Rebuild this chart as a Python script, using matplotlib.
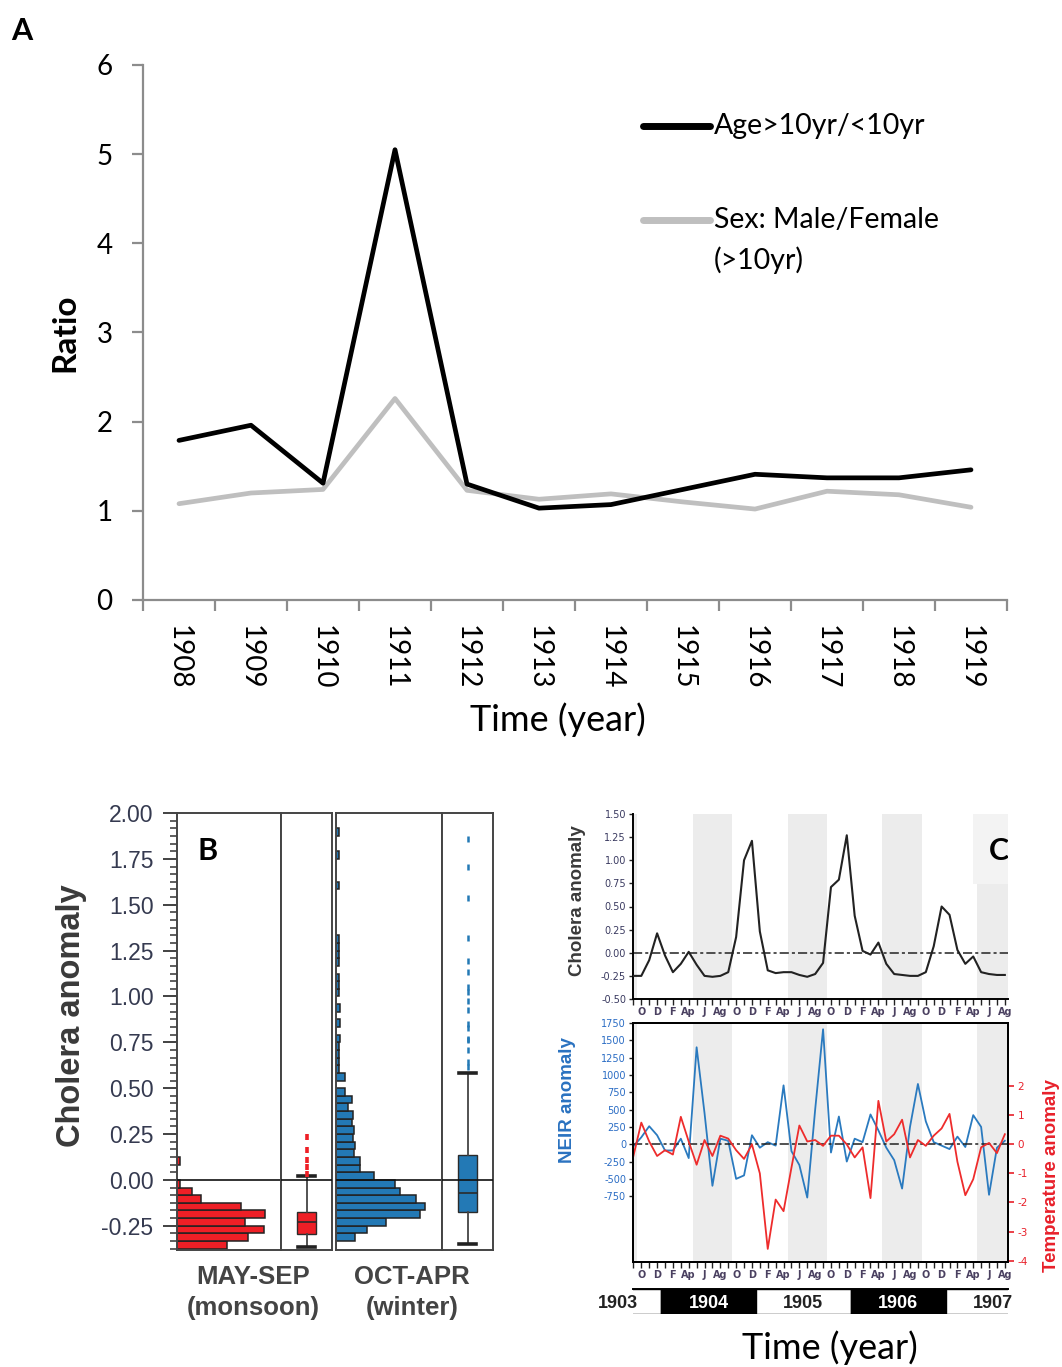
"""
Cholera figure: A) age / sex ratios per year, B) seasonal distribution of
cholera anomaly, C) monthly cholera, NEIR and temperature anomalies 1903-1907.
"""

import numpy as np
import matplotlib

matplotlib.use("Agg")
import matplotlib.pyplot as plt
from matplotlib.patches import Rectangle

W, H = 1062, 1367

# ---------------- panel A ----------------
years_a = [1908, 1909, 1910, 1911, 1912, 1913, 1914, 1915, 1916, 1917, 1918, 1919]
ratio_age = [1.79, 1.96, 1.31, 5.05, 1.30, 1.03, 1.07, 1.24, 1.41, 1.37, 1.37, 1.46]
ratio_sex = [1.08, 1.20, 1.24, 2.26, 1.23, 1.13, 1.19, 1.10, 1.02, 1.22, 1.18, 1.04]

# ---------------- panel B ----------------
bin_width = 0.25 / 6
monsoon_first_bin = -9
monsoon_counts = [50, 71, 87, 68, 88, 64, 24, 15, 3, 0, 0, 3]
winter_first_bin = -8
winter_counts = [19, 31, 50, 84, 89, 80, 64, 59, 38, 24, 24, 18, 19, 17, 18, 16,
                 17, 12, 16, 9, 0, 9, 3, 3, 3, 3, 4, 0, 4, 0, 4, 0, 3, 3, 3, 0,
                 3, 3, 3, 3, 0, 0, 0, 0, 0, 0, 3, 0, 0, 0, 3, 0, 0, 3]
monsoon_box = dict(whislo=-0.367, q1=-0.296, med=-0.231, q3=-0.176, whishi=0.022)
monsoon_outliers = [0.030, 0.073, 0.109, 0.164, 0.236]
winter_box = dict(whislo=-0.349, q1=-0.175, med=-0.069, q3=0.136, whishi=0.582)
winter_outliers = [0.618, 0.642, 0.709, 0.760, 0.767, 0.827, 0.851, 0.927, 0.973,
                   1.027, 1.051, 1.136, 1.193, 1.316, 1.535, 1.704, 1.858]

# ---------------- panel C ----------------
# month index: Oct 1903 = 0, data runs Sep 1903 .. Aug 1907
first_month = -1
cholera_anom = [-0.25, -0.25, -0.08, 0.21, -0.03, -0.21, -0.12, 0.01, -0.13, -0.25,
                -0.26, -0.25, -0.21, 0.17, 1.00, 1.21, 0.23, -0.19, -0.22, -0.21,
                -0.21, -0.24, -0.26, -0.23, -0.11, 0.71, 0.79, 1.27, 0.40, 0.02,
                -0.02, 0.11, -0.12, -0.23, -0.24, -0.25, -0.25, -0.21, 0.07, 0.50,
                0.41, 0.03, -0.12, -0.04, -0.21, -0.23, -0.24, -0.24]
neir_anom = [-30, 100, 260, 130, -90, -90, 80, -200, 1400, 450, -600, 80, 50, -500,
             -450, 130, -50, 30, -20, 850, -100, -300, -770, 500, 1660, -120, 400,
             -250, 80, 30, 430, 200, -50, -230, -640, 250, 870, 330, 30, -20, -70,
             110, -40, 420, 250, -730, -50, 50]
temp_anom = [-0.40, 0.75, 0.10, -0.40, -0.20, -0.35, 0.95, 0.10, -0.70, 0.15, -0.40,
             0.30, 0.20, -0.20, -0.50, 0.00, -1.00, -3.60, -1.90, -2.30, -0.80, 0.65,
             0.10, 0.15, -0.05, 0.30, 0.30, 0.00, -0.45, -0.10, -1.85, 1.50, 0.10,
             0.35, 0.85, -0.45, 0.15, -0.05, 0.30, 0.55, 1.05, -0.60, -1.75, -1.20,
             -0.10, 0.05, -0.30, 0.35]
month_tick_labels = ["O", "D", "F", "Ap", "J", "Ag"]
years_c = [1903, 1904, 1905, 1906, 1907]
year_fill = ["white", "black", "white", "black", "white"]

RED = "#ee1f26"
BLUE = "#2379b5"
TXT = "#353a50"


def px_axes(fig, left, top, right, bottom):
    return fig.add_axes([left / W, 1 - bottom / H, (right - left) / W, (bottom - top) / H])


def fig_text(fig, x, y, s, **kw):
    kw.setdefault("ha", "center")
    kw.setdefault("va", "center")
    fig.text(x / W, 1 - y / H, s, **kw)


fig = plt.figure(figsize=(W / 100, H / 100), dpi=100)

# ================= panel A =================
axA = px_axes(fig, 143, 65, 1007, 600)
xa = np.arange(len(years_a)) + 0.5
axA.plot(xa, ratio_sex, color="#bfbfbf", lw=3.4, solid_capstyle="round")
axA.plot(xa, ratio_age, color="black", lw=3.4, solid_capstyle="round")
axA.set_xlim(0, len(years_a))
axA.set_ylim(0, 6)
for side in ["top", "right"]:
    axA.spines[side].set_visible(False)
for side in ["left", "bottom"]:
    axA.spines[side].set_color("#8c8c8c")
    axA.spines[side].set_linewidth(1.6)
axA.set_xticks(xa)
axA.set_xticklabels([str(y) for y in years_a], rotation=270, fontsize=20,
                    family="Lato")
axA.set_xticks(np.arange(len(years_a) + 1), minor=True)
axA.tick_params(axis="x", which="major", length=0, pad=18)
axA.tick_params(axis="x", which="minor", length=8, width=1.6, color="#8c8c8c")
axA.set_yticks(range(7))
axA.set_yticklabels([str(v) for v in range(7)], fontsize=20, family="Lato")
axA.tick_params(axis="y", length=8, width=1.6, color="#8c8c8c", pad=14)

# legend drawn by hand, as in the original
leg_y = [0.886, 0.710]
for yy, col in zip(leg_y, ["black", "#bfbfbf"]):
    axA.plot([0.5787, 0.6562], [yy, yy], transform=axA.transAxes, color=col,
             lw=5, solid_capstyle="round", clip_on=False)
axA.text(0.661, 0.886, "Age>10yr/<10yr", transform=axA.transAxes, va="center",
         fontsize=20.5, family="Lato")
axA.text(0.661, 0.710, "Sex: Male/Female", transform=axA.transAxes, va="center",
         fontsize=20.5, family="Lato")
axA.text(0.661, 0.6355, "(>10yr)", transform=axA.transAxes, va="center",
         fontsize=20.5, family="Lato")

fig_text(fig, 65, 333, "Ratio", rotation=90, fontsize=24, weight="bold", family="Lato")
fig_text(fig, 558, 720, "Time (year)", fontsize=26, family="Lato")
fig_text(fig, 22, 31, "A", fontsize=22, weight="bold", family="Lato")

# ================= panel B =================
axB1 = px_axes(fig, 177, 813, 281, 1250)
axB2 = px_axes(fig, 281, 813, 332, 1250)
axB3 = px_axes(fig, 336, 813, 442, 1250)
axB4 = px_axes(fig, 442, 813, 493, 1250)

m_edges = (np.arange(len(monsoon_counts)) + monsoon_first_bin) * bin_width
w_edges = (np.arange(len(winter_counts)) + winter_first_bin) * bin_width
mc = np.array(monsoon_counts)
wc = np.array(winter_counts)
axB1.barh(m_edges[mc > 0], mc[mc > 0], height=bin_width, align="edge", color=RED,
          edgecolor="#222222", lw=1.1)
axB3.barh(w_edges[wc > 0], wc[wc > 0], height=bin_width, align="edge", color=BLUE,
          edgecolor="#222222", lw=1.1)
axB1.set_xlim(0, 104)
axB3.set_xlim(0, 106)

box_common = dict(positions=[0.5], widths=[0.38], capwidths=[0.34], patch_artist=True,
                  medianprops=dict(color="#2b2b2b", lw=1.2),
                  whiskerprops=dict(color="#444444", lw=1.3),
                  capprops=dict(color="#222222", lw=2.6))
axB2.bxp([dict(monsoon_box, fliers=monsoon_outliers)],
         boxprops=dict(facecolor=RED, edgecolor="#2b2b2b", lw=1.0),
         flierprops=dict(marker="|", markeredgecolor=RED, markersize=4.5,
                         markeredgewidth=2.6), **box_common)
axB4.bxp([dict(winter_box, fliers=winter_outliers)],
         boxprops=dict(facecolor=BLUE, edgecolor="#2b2b2b", lw=1.0),
         flierprops=dict(marker="|", markeredgecolor=BLUE, markersize=4,
                         markeredgewidth=1.8), **box_common)

for ax in [axB1, axB2, axB3, axB4]:
    ax.set_ylim(-0.382, 2.0)
    ax.axhline(0, color="#111111", lw=1.2, zorder=3)
    for sp in ax.spines.values():
        sp.set_color("#444444")
        sp.set_linewidth(1.4)
    if ax is not axB1:
        ax.set_yticks([])
        ax.set_xticks([])
    else:
        ax.set_xticks([])
for ax in [axB2, axB4]:
    ax.set_xlim(0, 1)

axB1.set_yticks(np.arange(-0.25, 2.001, 0.25))
axB1.set_yticklabels(["%.2f" % v for v in np.arange(-0.25, 2.001, 0.25)],
                     fontsize=16.5, color=TXT, family="Liberation Sans")
axB1.set_yticks(np.arange(-9, 49) * bin_width, minor=True)
axB1.tick_params(axis="y", which="major", length=10, width=1.3, color="#333333", pad=7)
axB1.tick_params(axis="y", which="minor", length=5, width=1.1, color="#333333")

fig_text(fig, 72, 1016, "Cholera anomaly", rotation=90, fontsize=23.5, weight="bold",
         color="#3a3a3a", family="Liberation Sans")
fig_text(fig, 208, 851, "B", fontsize=22, weight="bold", family="Lato")
fig_text(fig, 253, 1277, "MAY-SEP", fontsize=18.5, weight="bold", color="#444444",
         family="Liberation Sans")
fig_text(fig, 253, 1308, "(monsoon)", fontsize=18.5, weight="bold", color="#444444",
         family="Liberation Sans")
fig_text(fig, 412, 1277, "OCT-APR", fontsize=18.5, weight="bold", color="#444444",
         family="Liberation Sans")
fig_text(fig, 412, 1308, "(winter)", fontsize=18.5, weight="bold", color="#444444",
         family="Liberation Sans")

# ================= panel C =================
months = np.arange(len(cholera_anom)) + first_month
xlim_c = (-1.05, 46.4)

axC1 = px_axes(fig, 633, 814, 1008, 999)
axC2 = px_axes(fig, 633, 1023, 1008, 1262)
axC3 = axC2.twinx()
axY = px_axes(fig, 633, 1289, 1008, 1314)

tick_months = np.arange(first_month, months[-1] + 1)
tick_labels = [month_tick_labels[(m // 2) % 6] if (m >= 0 and m % 2 == 0) else ""
               for m in tick_months]

for ax in [axC1, axC2]:
    ax.set_xlim(*xlim_c)
    # monsoon months (May-Sep) shaded
    for yr in years_c:
        start = (yr - 1904) * 12 + 7 - 0.5
        ax.axvspan(start, start + 5, color="#ececec", lw=0, zorder=0)
    ax.set_xticks(tick_months)
    ax.set_xticklabels(tick_labels, fontsize=7, weight="bold", color="#4a4060",
                       family="DejaVu Sans")
    ax.tick_params(axis="x", length=4, width=1.0, color="#222222", pad=2)
    ax.tick_params(axis="y", length=3, width=1.0, color="#222222", pad=2)

# top: cholera anomaly
axC1.plot(months, cholera_anom, color="#222222", lw=1.5, zorder=3)
axC1.axhline(0, color="#222222", lw=1.1, ls=(0, (6, 2, 2, 2)), zorder=2)
axC1.set_ylim(-0.5, 1.5)
yt = np.arange(-0.5, 1.501, 0.25)
axC1.set_yticks(yt)
axC1.set_yticklabels(["%.2f" % v for v in yt], fontsize=7, color="#3a3a60",
                     family="DejaVu Sans")
axC1.spines["top"].set_visible(False)
axC1.spines["right"].set_visible(False)
for side in ["left", "bottom"]:
    axC1.spines[side].set_linewidth(1.4)
axC1.add_patch(Rectangle((0.907, 0.62), 0.093, 0.38, transform=axC1.transAxes,
                         facecolor="#f3f3f3", lw=0, zorder=1))
axC1.text(0.975, 0.80, "C", transform=axC1.transAxes, ha="center", va="center",
          fontsize=22, weight="bold", family="Lato", clip_on=True, zorder=4)

# bottom: NEIR and temperature anomalies
axC2.plot(months, neir_anom, color="#2a7abf", lw=1.3, zorder=3)
axC2.axhline(0, color="#222222", lw=1.1, ls=(0, (6, 2, 2, 2)), zorder=4)
axC2.set_ylim(-1700, 1750)
yt2 = np.arange(-750, 1751, 250)
axC2.set_yticks(yt2)
axC2.set_yticklabels([str(v) for v in yt2], fontsize=7, color="#2a6cc4",
                     family="DejaVu Sans")
axC3.plot(months, temp_anom, color="#ee2c2c", lw=1.3)
axC3.set_ylim(-4.05, 4.18)
axC3.set_yticks(range(-4, 3))
axC3.set_yticklabels([str(v) for v in range(-4, 3)], fontsize=7.5, color="#e8202a",
                     family="DejaVu Sans")
axC3.tick_params(axis="y", length=4, width=1.2, color="#e8202a", pad=3)
for ax in [axC2, axC3]:
    for sp in ax.spines.values():
        sp.set_linewidth(1.4)

fig_text(fig, 577, 901, "Cholera anomaly", rotation=90, fontsize=13.5, weight="bold",
         color="#3a3a3a", family="Liberation Sans")
fig_text(fig, 567, 1100, "NEIR anomaly", rotation=90, fontsize=13.5, weight="bold",
         color="#2a72c0", family="Liberation Sans")
fig_text(fig, 1052, 1176, "Temperature anomaly", rotation=90, fontsize=13.5,
         weight="bold", color="#e8202a", family="Liberation Sans")

# year bar
year_start = [(yr - 1904) * 12 + 2.5 for yr in years_c]
axY.bar(year_start, [1] * len(years_c), width=12, align="edge", color=year_fill,
        edgecolor="black", lw=1.0)
axY.set_xlim(*xlim_c)
axY.set_ylim(0, 1)
axY.set_xticks([])
axY.set_yticks([])
for side in ["left", "right", "bottom"]:
    axY.spines[side].set_visible(False)
axY.spines["top"].set_linewidth(1.4)
for yr, st, fc in zip(years_c, year_start, year_fill):
    xc = min(max(st + 6, xlim_c[0] - 1.9), xlim_c[1] - 0.3)
    axY.text(xc, 0.42, str(yr), ha="center", va="center", fontsize=13, weight="bold",
             color="white" if fc == "black" else "#222222", family="Liberation Sans",
             clip_on=False)

fig_text(fig, 830, 1348, "Time (year)", fontsize=26, family="Lato")

fig.savefig("out.png", dpi=100)
